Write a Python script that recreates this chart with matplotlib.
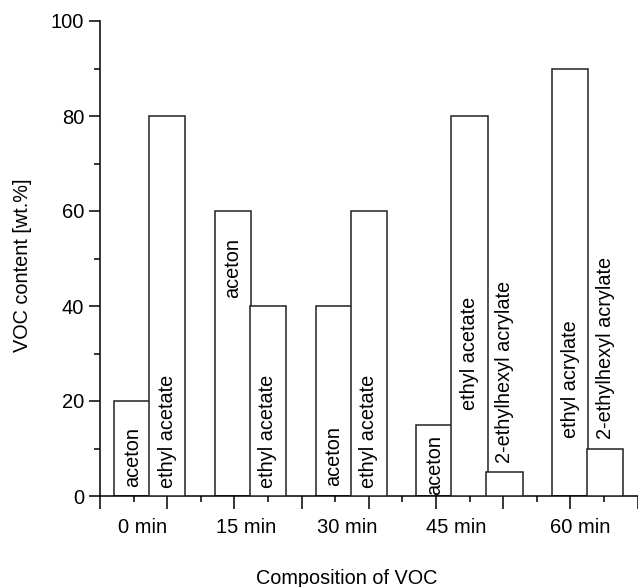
import numpy as np
import matplotlib
matplotlib.use("Agg")
import matplotlib.pyplot as plt
from matplotlib.ticker import MultipleLocator
import matplotlib.transforms as mtransforms

plt.rcParams['font.family'] = ['Liberation Sans', 'DejaVu Sans']

# ---- data ----
groups = ["0 min", "15 min", "30 min", "45 min", "60 min"]
compounds = [
    ["aceton", "ethyl acetate"],
    ["aceton", "ethyl acetate"],
    ["aceton", "ethyl acetate"],
    ["aceton", "ethyl acetate", "2-ethylhexyl acrylate"],
    ["ethyl acrylate", "2-ethylhexyl acrylate"],
]
values = [
    [20, 80],
    [60, 40],
    [40, 60],
    [15, 80, 5],
    [90, 10],
]

# ---- layout ----
group_left = [0.21, 1.71, 3.21, 4.71, 6.73]
label_x = [0.64, 2.17, 3.68, 5.30, 7.14]
bar_w = 0.54
step = 0.52
# where the rotated name starts (bottom of text, data units)
text_y = [
    [1.9, 1.6],
    [41.6, 1.6],
    [2.2, 1.6],
    [0.2, 18.0, 6.9],
    [12.3, 11.9],
]

fig = plt.figure(figsize=(6.38, 5.87), dpi=100)
ax = fig.add_axes([100/638, (587-496)/587, 537.5/638, 475/587])

for g in range(len(groups)):
    for i, (name, v) in enumerate(zip(compounds[g], values[g])):
        x0 = group_left[g] + i * step
        ax.bar(x0, v, width=bar_w, align='edge', color='white',
               edgecolor='#222222', linewidth=1.1, zorder=2 + i)
        ax.text(x0 + bar_w / 2, text_y[g][i], name, rotation=90,
                ha='center', va='bottom', fontsize=14.3, zorder=10)

ax.set_xlim(0, 8)
ax.set_ylim(0, 100)
ax.spines['top'].set_visible(False)
ax.spines['right'].set_visible(False)
for s in ['left', 'bottom']:
    ax.spines[s].set_linewidth(1.1)

ax.yaxis.set_major_locator(MultipleLocator(20))
ax.yaxis.set_minor_locator(MultipleLocator(10))
ax.xaxis.set_major_locator(MultipleLocator(1))
ax.xaxis.set_minor_locator(MultipleLocator(0.5))
ax.set_xticklabels([])
ax.tick_params(axis='both', which='major', length=8, width=1.1, labelsize=14.5)
ax.tick_params(axis='both', which='minor', length=4, width=1.1)
ax.tick_params(axis='x', which='major', length=9)

trans = mtransforms.blended_transform_factory(ax.transData, ax.transAxes)
for lx, g in zip(label_x, groups):
    ax.text(lx, -0.067, g, transform=trans, ha='center', va='center', fontsize=14.5)

fig.text(22.5/638, 1 - 265/587, "VOC content [wt.%]", rotation=90,
         ha='center', va='center', fontsize=14.3)
fig.text(347/638, 1 - 578/587, "Composition of VOC", ha='center', va='center', fontsize=14.3)

fig.savefig("out.png", dpi=100)
